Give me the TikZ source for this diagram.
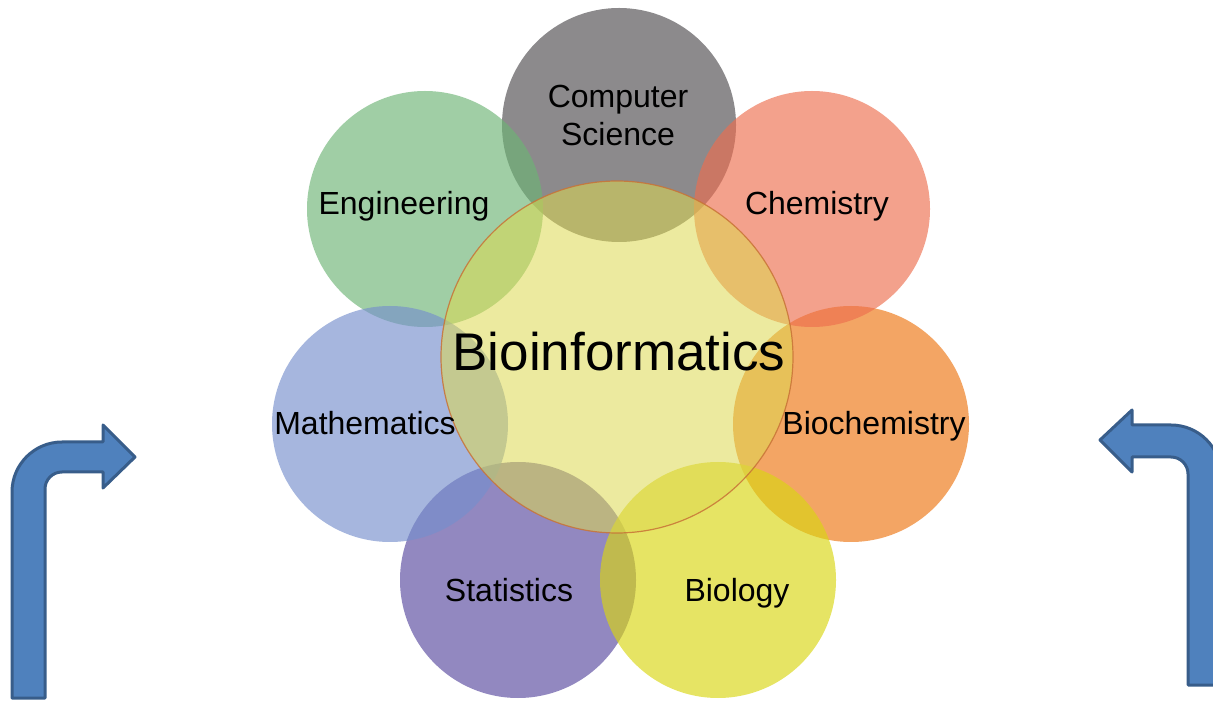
\documentclass[tikz,border=0pt]{standalone}
\usepackage{fontspec}
\setmainfont{Liberation Sans}
\definecolor{csc}{RGB}{78,75,78}
\definecolor{engc}{RGB}{109,180,117}
\definecolor{chemc}{RGB}{237,110,78}
\definecolor{bchc}{RGB}{237,117,17}
\definecolor{bioc}{RGB}{217,214,17}
\definecolor{statc}{RGB}{87,72,158}
\definecolor{mathc}{RGB}{118,143,204}
\definecolor{centc}{RGB}{221,217,80}
\definecolor{centb}{RGB}{200,115,55}
\definecolor{arrf}{RGB}{79,129,189}
\definecolor{arrd}{RGB}{56,93,138}
\begin{document}
\begin{tikzpicture}[x=1pt,y=1pt,
  disc/.style={circle, inner sep=0pt, minimum size=236pt, fill opacity=0.65, draw=none},
  lbl/.style={font=\fontsize{32}{38}\selectfont, inner sep=0pt, text height=23pt, text depth=0pt, align=center},
  bigl/.style={font=\fontsize{53}{60}\selectfont, inner sep=0pt, text height=38pt, text depth=0pt},
  bentarrow/.style={fill=arrf, draw=arrd, line width=3pt, line join=round}]
\useasboundingbox (0,0) rectangle (1213,702);
\clip (0,0) rectangle (1213,702);
% outer discs
\node[disc, fill=csc, minimum size=234pt] (cs) at (619,577) {};
\node[disc, fill=engc] (eng) at (425,493) {};
\node[disc, fill=bchc] (bch) at (851,278) {};
\node[disc, fill=chemc] (chem) at (812,493) {};
\node[disc, fill=statc] (stat) at (518,122) {};
\node[disc, fill=mathc] (math) at (390,278) {};
\node[disc, fill=bioc] (bio) at (718,122) {};
% centre disc
\node[circle, inner sep=0pt, minimum size=352pt, fill=centc, fill opacity=0.55, draw=centb, draw opacity=0.85, line width=1.2pt] (cent) at (617,345) {};
% labels
\node[lbl] (csl) at (618,568) {Computer\\Science};
\node[lbl] (engl) at (404,499) {Engineering};
\node[lbl] (cheml) at (817,499) {Chemistry};
\node[lbl] (mathl) at (365,279) {Mathematics};
\node[lbl] (bchl) at (874,279) {Biochemistry};
\node[lbl] (statl) at (509,112) {Statistics};
\node[lbl] (biol) at (737,112) {Biology};
\node[bigl] (bil) at (619,350) {Bioinformatics};
% bent arrows
\draw[bentarrow] (12,4) -- (12,210) arc[start angle=180, end angle=90, radius=50] -- (103,260) -- (103,277) -- (135,245) -- (103,214) -- (103,230) -- (62,230) arc[start angle=90, end angle=180, radius=17] -- (45,4) -- cycle;
\draw[bentarrow] (1188,17) -- (1188,228) arc[start angle=0, end angle=90, radius=17] -- (1132,245) -- (1132,230) -- (1100,262) -- (1132,292) -- (1132,277) -- (1171,277) arc[start angle=90, end angle=0, radius=50] -- (1221,17) -- cycle;
\end{tikzpicture}
\end{document}
